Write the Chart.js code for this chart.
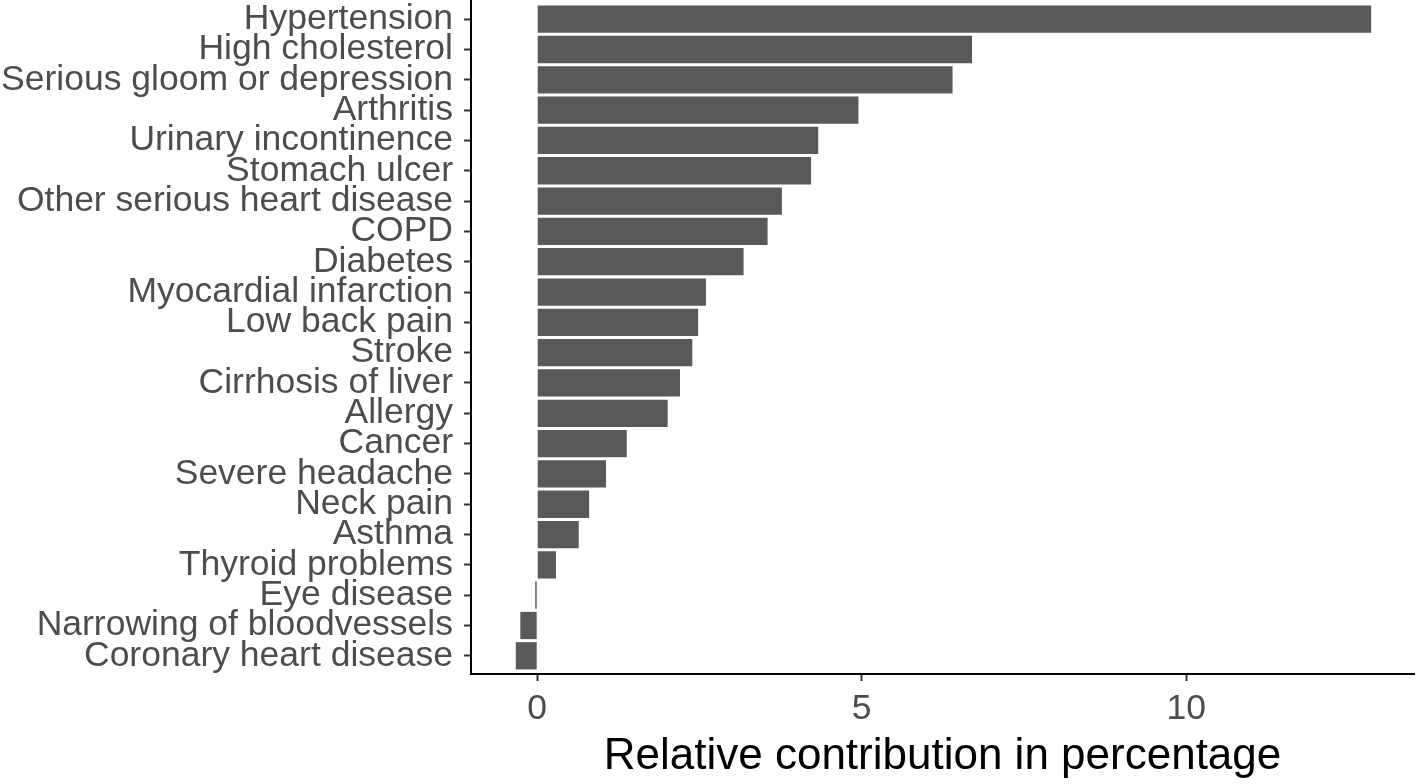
<!DOCTYPE html>
<html>
<head>
<meta charset="utf-8">
<script src="https://cdn.jsdelivr.net/npm/chart.js@4"></script>
<style>
  html, body { margin: 0; padding: 0; background: #fff; }
  #wrap { width: 1416px; height: 784px; position: relative; }
</style>
</head>
<body>
<div id="wrap"><canvas id="chart"></canvas></div>
<script>
// conditions, top to bottom as in the figure
const conditions = [
  'Hypertension', 'High cholesterol', 'Serious gloom or depression', 'Arthritis',
  'Urinary incontinence', 'Stomach ulcer', 'Other serious heart disease', 'COPD',
  'Diabetes', 'Myocardial infarction', 'Low back pain', 'Stroke',
  'Cirrhosis of liver', 'Allergy', 'Cancer', 'Severe headache',
  'Neck pain', 'Asthma', 'Thyroid problems', 'Eye disease',
  'Narrowing of bloodvessels', 'Coronary heart disease'
];
// relative contribution (%)
const contribution = [
  12.85, 6.70, 6.40, 4.95,
  4.33, 4.22, 3.77, 3.55,
  3.18, 2.60, 2.48, 2.39,
  2.20, 2.01, 1.38, 1.06,
  0.80, 0.64, 0.29, -0.03,
  -0.26, -0.33
];
const xTicks = [0, 5, 10];
const xTitle = 'Relative contribution in percentage';

const FONT = '"Liberation Sans", Arial, Helvetica, sans-serif';

const points = conditions.map((c, i) => ({ x: contribution[i], y: i }));

// drop the automatic half-label padding so the plot fills the canvas like ggplot
function noEdgePad(s) {
  s.paddingTop = 0; s.paddingBottom = 0;
  s.paddingLeft = 0; s.paddingRight = 0;
}

const ctx = document.getElementById('chart').getContext('2d');
const chart = new Chart(ctx, {
  type: 'bar',
  data: {
    datasets: [{
      data: points,
      backgroundColor: '#595959',
      borderWidth: 0,
      barPercentage: 0.9,
      categoryPercentage: 1.0
    }]
  },
  options: {
    indexAxis: 'y',
    responsive: true,
    maintainAspectRatio: false,
    animation: false,
    layout: { padding: { top: 1, right: 2, left: 0, bottom: 0 } },
    plugins: { legend: { display: false }, tooltip: { enabled: false } },
    scales: {
      x: {
        type: 'linear',
        min: -1.02,
        max: 13.51,
        afterFit: s => { s.height = 110; noEdgePad(s); },
        afterBuildTicks: s => { s.ticks = xTicks.map(v => ({ value: v })); },
        border: { display: true, color: '#000', width: 2 },
        grid: { drawOnChartArea: false, drawTicks: true, tickLength: 7, tickColor: '#333', tickWidth: 2 },
        ticks: {
          color: '#4d4d4d',
          padding: 7,
          font: { family: FONT, size: 35.5, lineHeight: 1.2 }
        },
        title: {
          display: true,
          text: xTitle,
          color: '#000',
          padding: { top: 0, bottom: 1 },
          font: { family: FONT, size: 44, lineHeight: 1.2 }
        }
      },
      y: {
        type: 'linear',
        reverse: true,
        offset: false,
        min: -0.6,
        max: conditions.length - 0.4,
        afterFit: s => { s.width = 471; noEdgePad(s); },
        afterBuildTicks: s => { s.ticks = conditions.map((c, i) => ({ value: i })); },
        border: { display: true, color: '#000', width: 2 },
        grid: { offset: false, drawOnChartArea: false, drawTicks: true, tickLength: 7, tickColor: '#333', tickWidth: 2 },
        ticks: {
          autoSkip: false,
          color: '#4d4d4d',
          padding: 11,
          font: { family: FONT, size: 35.5, lineHeight: 1.0 },
          callback: v => conditions[v]
        }
      }
    }
  }
});
</script>
</body>
</html>
